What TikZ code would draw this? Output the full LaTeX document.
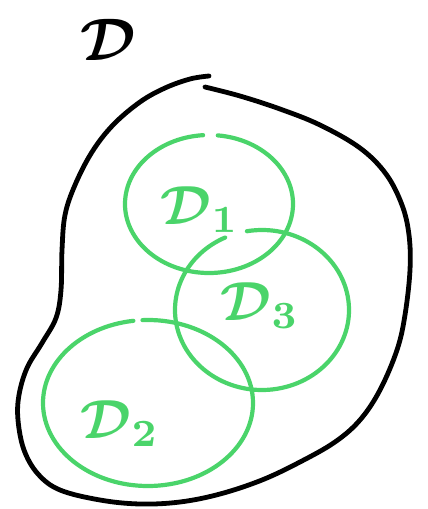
\documentclass[tikz,border=0pt]{standalone}
\usepackage{xcolor}
\usepackage{graphicx}
\usepackage{bm}
\definecolor{sketchgreen}{RGB}{74,212,106}
\begin{document}
\begin{tikzpicture}[x=1pt,y=-1pt,
  outline/.style={draw=black,line width=4.8pt,line cap=round,line join=round},
  setline/.style={draw=sketchgreen,line width=4.2pt,line cap=round},
  biglabel/.style={text=black,inner sep=0pt},
  setlabel/.style={text=sketchgreen,inner sep=0pt}]
\useasboundingbox (0,0) rectangle (428,509);
% outer region D
\draw[outline] plot[smooth,tension=0.6] coordinates {
 (209,76) (190,79) (165,88) (140,102) (113,125) (92,152) (75,185) (65,215)
 (62,250) (61,290) (56,318) (42,343) (27,368) (19,395) (18,420) (24,450)
 (38,474) (60,490) (100,500) (140,504) (180,502) (220,494) (262,480)
 (300,462) (335,442) (360,420) (380,390) (397,350) (405,315) (410,270)
 (409,235) (402,205) (386,174) (360,148) (320,125) (280,109) (240,96) (205,87)};
% subsets
\draw[setline] (209,204) ++(-84:84 and 69) arc[start angle=-84,end angle=266,x radius=84,y radius=69];
\draw[setline] (262,310) ++(-100:87 and 80) arc[start angle=-100,end angle=245,x radius=87,y radius=80];
\draw[setline] (148,403) ++(-93:105 and 83) arc[start angle=-93,end angle=262,x radius=105,y radius=83];
% labels
\node[biglabel] (D) at (108,40) {\scalebox{6}{$\bm{\mathcal{D}}$}};
\node[setlabel] (D1) at (200,210) {\scalebox{5.5}{$\bm{\mathcal{D}_1}$}};
\node[setlabel] (D3) at (260,306) {\scalebox{5.5}{$\bm{\mathcal{D}_3}$}};
\node[setlabel] (D2) at (120,424) {\scalebox{5.5}{$\bm{\mathcal{D}_2}$}};
\end{tikzpicture}
\end{document}
